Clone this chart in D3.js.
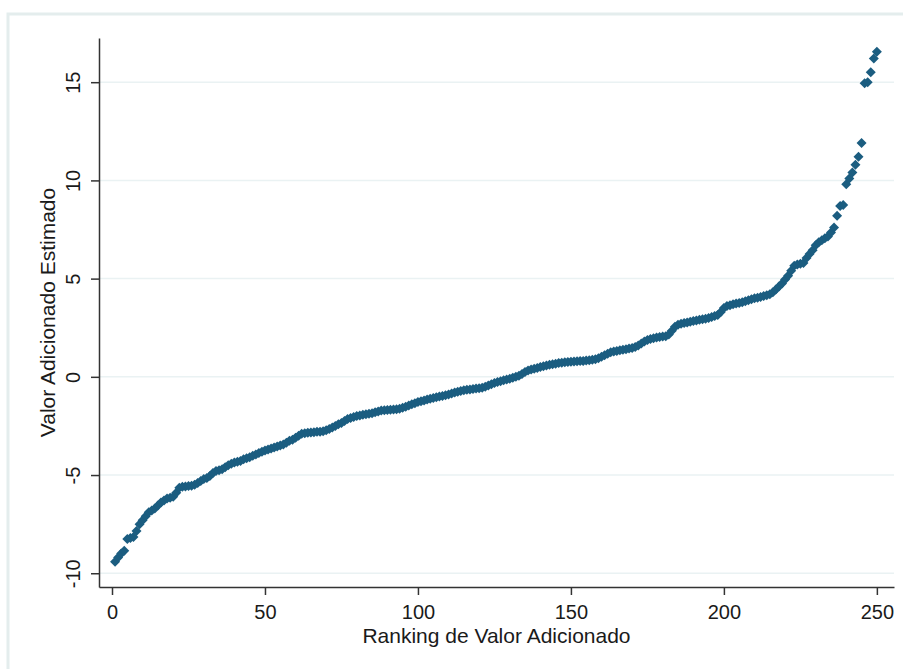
<!DOCTYPE html>
<html>
<head>
<meta charset="utf-8">
<script src="https://cdn.jsdelivr.net/npm/d3@7"></script>
<style>
    body { margin: 0; background: #fff; }
    svg text { font-family: "Liberation Sans", Arial, sans-serif; fill: #1a1a1a; }
</style>
</head>
<body>
<div id="graph"></div>
<script>
// Estimated value added, in rank order (rank 1 .. 250)
const ranks = d3.range(1, 251);
const estimates = [
    -9.42, -9.2, -9.0, -8.85, -8.25, -8.2, -8.15, -7.85, -7.5, -7.3,
    -7.1, -6.9, -6.8, -6.7, -6.55, -6.4, -6.3, -6.2, -6.15, -6.1,
    -5.9, -5.65, -5.6, -5.58, -5.56, -5.55, -5.5, -5.4, -5.3, -5.2,
    -5.15, -5.05, -4.9, -4.8, -4.75, -4.7, -4.6, -4.5, -4.42, -4.36,
    -4.32, -4.28, -4.2, -4.15, -4.1, -4.02, -3.95, -3.88, -3.82, -3.75,
    -3.7, -3.65, -3.6, -3.55, -3.5, -3.45, -3.35, -3.25, -3.2, -3.1,
    -3.0, -2.9, -2.87, -2.85, -2.83, -2.82, -2.8, -2.79, -2.77, -2.72,
    -2.65, -2.58, -2.5, -2.42, -2.35, -2.25, -2.15, -2.1, -2.05, -2.0,
    -1.97, -1.93, -1.9, -1.88, -1.85, -1.8, -1.76, -1.72, -1.7, -1.69,
    -1.67, -1.66, -1.65, -1.62, -1.58, -1.52, -1.46, -1.4, -1.34, -1.28,
    -1.24, -1.2, -1.16, -1.12, -1.08, -1.04, -1.0, -0.97, -0.94, -0.9,
    -0.85, -0.8, -0.76, -0.72, -0.68, -0.66, -0.64, -0.62, -0.6, -0.58,
    -0.56, -0.5, -0.44, -0.38, -0.32, -0.26, -0.22, -0.18, -0.14, -0.1,
    -0.05, 0.0, 0.06, 0.14, 0.24, 0.32, 0.37, 0.41, 0.45, 0.5,
    0.54, 0.58, 0.61, 0.64, 0.67, 0.7, 0.72, 0.74, 0.76, 0.77,
    0.78, 0.79, 0.8, 0.81, 0.83, 0.85, 0.87, 0.9, 0.95, 1.02,
    1.1, 1.18, 1.25, 1.29, 1.32, 1.35, 1.38, 1.41, 1.44, 1.47,
    1.52, 1.6, 1.7, 1.8, 1.87, 1.92, 1.96, 2.0, 2.03, 2.05,
    2.07, 2.15, 2.35, 2.55, 2.65, 2.7, 2.74, 2.77, 2.8, 2.84,
    2.87, 2.9, 2.93, 2.96, 3.0, 3.05, 3.1, 3.15, 3.3, 3.5,
    3.6, 3.65, 3.7, 3.73, 3.76, 3.8, 3.85, 3.9, 3.95, 4.0,
    4.03, 4.07, 4.11, 4.15, 4.2, 4.3, 4.45, 4.6, 4.75, 4.95,
    5.15, 5.4, 5.65, 5.72, 5.76, 5.8, 6.05, 6.25, 6.45, 6.7,
    6.85, 6.95, 7.05, 7.15, 7.35, 7.6, 8.2, 8.7, 8.75, 9.8,
    10.1, 10.4, 10.8, 11.2, 11.9, 14.95, 15.0, 15.5, 16.2, 16.55
];
const xTicks = [0, 50, 100, 150, 200, 250];
const yTicks = [-10, -5, 0, 5, 10, 15];
const xTitle = "Ranking de Valor Adicionado";
const yTitle = "Valor Adicionado Estimado";

const width = 903;
const height = 669;
const plot = {left: 99, right: 894, top: 38, bottom: 587};

const svg = d3.select('#graph')
    .append('svg')
    .attr('width', width)
    .attr('height', height);

// Stata-like light frame around the graph region
svg.append('rect')
    .attr('x', 8)
    .attr('y', 14)
    .attr('width', 1000)
    .attr('height', 1000)
    .attr('fill', '#fff')
    .attr('stroke', '#e4eded')
    .attr('stroke-width', 3);

// Scales (domain a bit wider than the ticks, as in the original)
const xScale = d3.scaleLinear()
    .domain([-4.25, 255.6])
    .range([plot.left, plot.right]);

const yScale = d3.scaleLinear()
    .domain([-10.7, 17.25])
    .range([plot.bottom, plot.top]);

// Horizontal grid lines
svg.append('g')
    .selectAll('line')
    .data(yTicks)
    .enter()
    .append('line')
    .attr('x1', plot.left)
    .attr('x2', plot.right)
    .attr('y1', d => yScale(d))
    .attr('y2', d => yScale(d))
    .attr('stroke', '#eaf2f3')
    .attr('stroke-width', 1.5);

// Axes (plain hyphen for negatives, like the original)
const plain = d => String(d);

const xAxis = svg.append('g')
    .attr('transform', `translate(0,${plot.bottom})`)
    .call(d3.axisBottom(xScale).tickValues(xTicks).tickFormat(plain)
        .tickSize(8).tickSizeOuter(0).tickPadding(10));

const yAxis = svg.append('g')
    .attr('transform', `translate(${plot.left},0)`)
    .call(d3.axisLeft(yScale).tickValues(yTicks).tickFormat(plain)
        .tickSize(8).tickSizeOuter(0));

[xAxis, yAxis].forEach(ax => {
    ax.select('.domain').attr('stroke', '#333').attr('stroke-width', 1.5);
    ax.selectAll('.tick line').attr('stroke', '#333').attr('stroke-width', 1.5);
    ax.selectAll('.tick text').style('font-size', '20px').attr('fill', '#1a1a1a');
});

// y tick labels stand vertically in Stata
yAxis.selectAll('.tick text')
    .attr('x', 0)
    .attr('dy', 0)
    .attr('text-anchor', 'middle')
    .attr('transform', 'translate(-19,0) rotate(-90)');

// Axis titles
svg.append('text')
    .attr('x', (plot.left + plot.right) / 2)
    .attr('y', 643)
    .attr('text-anchor', 'middle')
    .style('font-size', '21px')
    .text(xTitle);

svg.append('text')
    .attr('transform', `translate(55,${(plot.top + plot.bottom) / 2}) rotate(-90)`)
    .attr('text-anchor', 'middle')
    .style('font-size', '21px')
    .text(yTitle);

// Diamond markers
const points = ranks.map((r, i) => ({x: r, y: estimates[i]}));
const diamond = 'M0,-5L5,0L0,5L-5,0Z';

svg.append('g')
    .selectAll('path')
    .data(points)
    .enter()
    .append('path')
    .attr('d', diamond)
    .attr('transform', d => `translate(${xScale(d.x)},${yScale(d.y)})`)
    .attr('fill', '#1b5d80');
</script>
</body>
</html>
